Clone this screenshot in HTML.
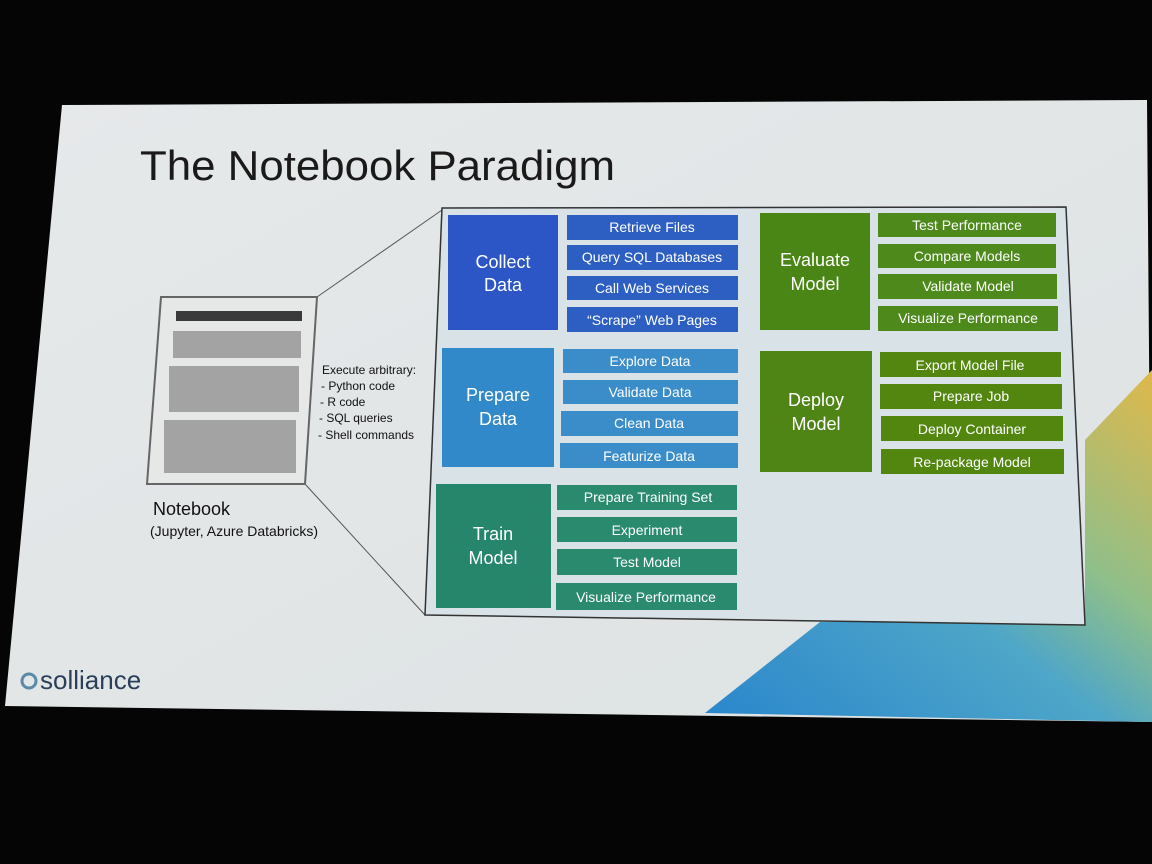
<!DOCTYPE html>
<html><head><meta charset="utf-8"><style>
html,body{margin:0;padding:0;background:#050505;width:1152px;height:864px;overflow:hidden}
text{font-family:"Liberation Sans",sans-serif}
.w{fill:#fff;font-size:14px;text-anchor:middle}
.b{fill:#fff;font-size:18px;text-anchor:middle}
</style></head><body>
<svg width="1152" height="864" viewBox="0 0 1152 864" xmlns="http://www.w3.org/2000/svg">
<defs>
<linearGradient id="dec" x1="0" y1="1" x2="1" y2="0">
<stop offset="0" stop-color="#2a86cc"/><stop offset="0.45" stop-color="#4ea6c8"/><stop offset="0.65" stop-color="#8fbf8a"/><stop offset="1" stop-color="#e0b84a"/>
</linearGradient>
<linearGradient id="slide" x1="0" y1="0" x2="1" y2="1">
<stop offset="0" stop-color="#e6e9ea"/><stop offset="1" stop-color="#dde2e3"/>
</linearGradient>
</defs>
<rect width="1152" height="864" fill="#050505"/>
<polygon points="62,105 1147,100 1152,722 5,706" fill="url(#slide)"/>
<polygon points="705,713 820,622 1085,622 1085,440 1152,370 1152,722" fill="url(#dec)"/>
<text x="140" y="180" font-size="42" fill="#1a1a1a" textLength="475" lengthAdjust="spacingAndGlyphs">The Notebook Paradigm</text>
<!-- notebook -->
<line x1="317" y1="297" x2="442" y2="210" stroke="#555" stroke-width="1"/>
<line x1="305" y1="484" x2="425" y2="615" stroke="#555" stroke-width="1"/>
<polygon points="161,297 317,297 305,484 147,484" fill="#e6e8e8" stroke="#666" stroke-width="2"/>
<rect x="176" y="311" width="126" height="10" fill="#3a3a3a"/>
<rect x="173" y="331" width="128" height="27" fill="#a4a3a4"/>
<rect x="169" y="366" width="130" height="46" fill="#a4a3a4"/>
<rect x="164" y="420" width="132" height="53" fill="#a4a3a4"/>
<text x="322" y="374" font-size="12" fill="#111">Execute arbitrary:</text>
<text x="321" y="390" font-size="12" fill="#111">- Python code</text>
<text x="320" y="406" font-size="12" fill="#111">- R code</text>
<text x="319" y="422" font-size="12" fill="#111">- SQL queries</text>
<text x="318" y="439" font-size="12" fill="#111">- Shell commands</text>
<text x="153" y="515" font-size="18" fill="#111">Notebook</text>
<text x="150" y="536" font-size="14" fill="#111">(Jupyter, Azure Databricks)</text>
<text x="40" y="689" font-size="26" fill="#2b3f5a">solliance</text>
<circle cx="29" cy="681" r="7" fill="none" stroke="#5a8aa8" stroke-width="3"/>
<!-- diagram panel -->
<polygon points="442,208 1066,207 1085,625 425,615" fill="#d9e3e7" stroke="#333" stroke-width="1.5"/>
<!-- collect -->
<rect x="448" y="215" width="110" height="115" fill="#2c55c6"/>
<text class="b" x="503" y="268">Collect</text><text class="b" x="503" y="291">Data</text>
<g fill="#2d5fc2">
<rect x="567" y="215" width="171" height="25"/><rect x="567" y="245" width="171" height="25"/><rect x="567" y="276" width="171" height="24"/><rect x="567" y="307" width="171" height="25"/></g>
<text class="w" x="652" y="232">Retrieve Files</text><text class="w" x="652" y="262">Query SQL Databases</text><text class="w" x="652" y="293">Call Web Services</text><text class="w" x="652" y="325">“Scrape” Web Pages</text>
<!-- prepare -->
<rect x="442" y="348" width="112" height="119" fill="#3289c9"/>
<text class="b" x="498" y="401">Prepare</text><text class="b" x="498" y="425">Data</text>
<g fill="#3a8dc8">
<rect x="563" y="349" width="175" height="24"/><rect x="563" y="380" width="175" height="24"/><rect x="561" y="411" width="177" height="25"/><rect x="560" y="443" width="178" height="25"/></g>
<text class="w" x="650" y="366">Explore Data</text><text class="w" x="650" y="397">Validate Data</text><text class="w" x="649" y="428">Clean Data</text><text class="w" x="649" y="461">Featurize Data</text>
<!-- train -->
<rect x="436" y="484" width="115" height="124" fill="#25866c"/>
<text class="b" x="493" y="540">Train</text><text class="b" x="493" y="564">Model</text>
<g fill="#2a8a6e">
<rect x="557" y="485" width="180" height="25"/><rect x="557" y="517" width="180" height="25"/><rect x="557" y="549" width="180" height="26"/><rect x="556" y="583" width="181" height="27"/></g>
<text class="w" x="648" y="502">Prepare Training Set</text><text class="w" x="647" y="535">Experiment</text><text class="w" x="647" y="567">Test Model</text><text class="w" x="646" y="602">Visualize Performance</text>
<!-- evaluate -->
<rect x="760" y="213" width="110" height="117" fill="#4a8616"/>
<text class="b" x="815" y="266">Evaluate</text><text class="b" x="815" y="290">Model</text>
<g fill="#4d8a1b">
<rect x="878" y="213" width="178" height="24"/><rect x="878" y="244" width="178" height="24"/><rect x="878" y="274" width="179" height="25"/><rect x="878" y="306" width="180" height="25"/></g>
<text class="w" x="967" y="230">Test Performance</text><text class="w" x="967" y="261">Compare Models</text><text class="w" x="968" y="291">Validate Model</text><text class="w" x="968" y="323">Visualize Performance</text>
<!-- deploy -->
<rect x="760" y="351" width="112" height="121" fill="#4f8514"/>
<text class="b" x="816" y="406">Deploy</text><text class="b" x="816" y="430">Model</text>
<g fill="#52860f">
<rect x="880" y="352" width="181" height="25"/><rect x="880" y="384" width="182" height="25"/><rect x="881" y="416" width="182" height="25"/><rect x="881" y="449" width="183" height="25"/></g>
<text class="w" x="970" y="370">Export Model File</text><text class="w" x="971" y="401">Prepare Job</text><text class="w" x="972" y="434">Deploy Container</text><text class="w" x="972" y="467">Re-package Model</text>
</svg>
</body></html>
